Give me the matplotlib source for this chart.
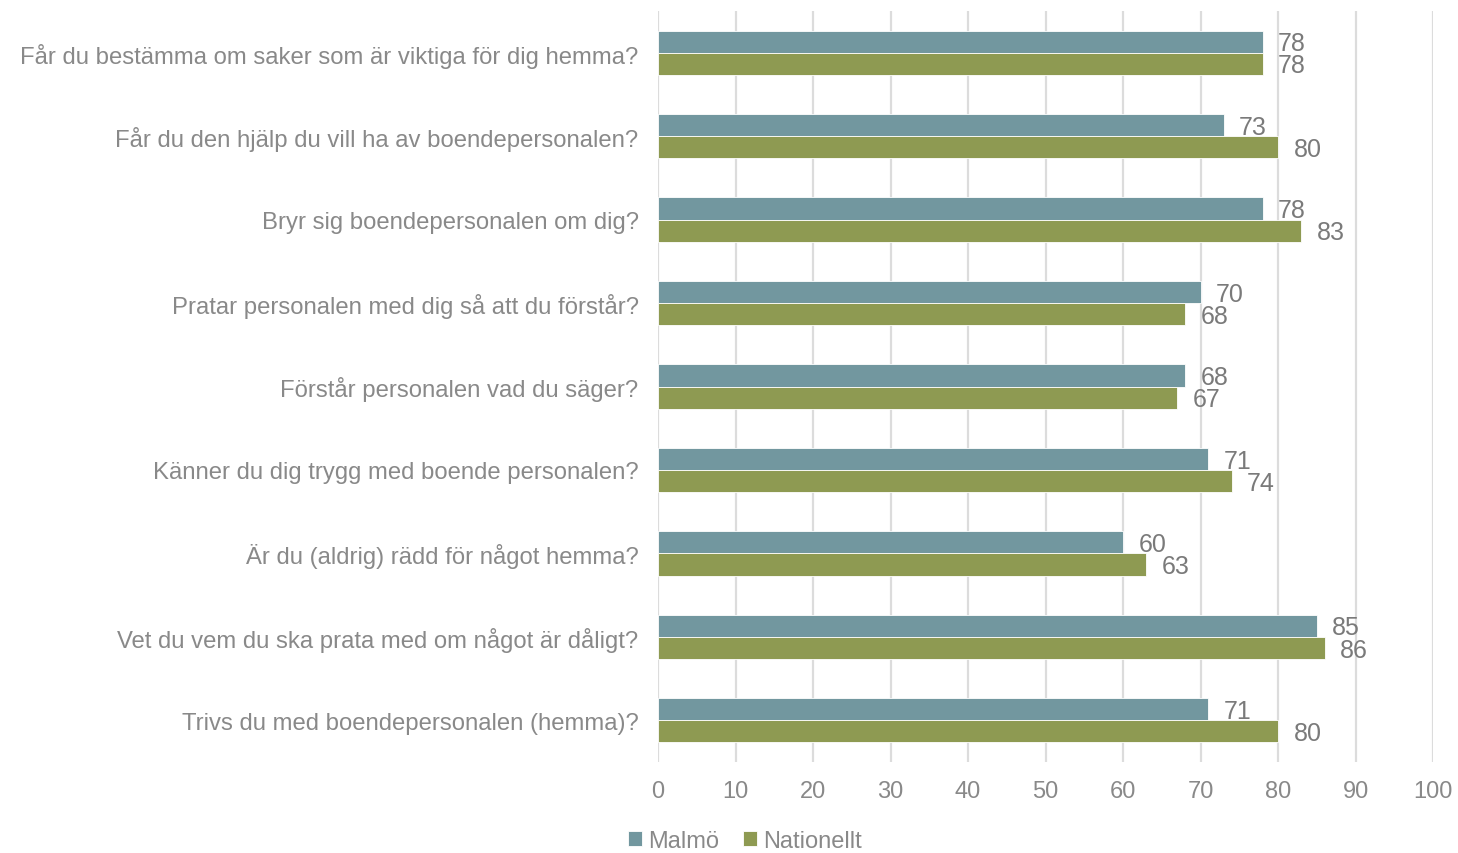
import matplotlib
matplotlib.use("Agg")
import matplotlib.pyplot as plt
import numpy as np

categories = [
    "Får du bestämma om saker som är viktiga för dig hemma?",
    "Får du den hjälp du vill ha av boendepersonalen?",
    "Bryr sig boendepersonalen om dig?",
    "Pratar personalen med dig så att du förstår?",
    "Förstår personalen vad du säger?",
    "Känner du dig trygg med boende personalen?",
    "Är du (aldrig) rädd för något hemma?",
    "Vet du vem du ska prata med om något är dåligt?",
    "Trivs du med boendepersonalen (hemma)?",
]
malmo = [78, 73, 78, 70, 68, 71, 60, 85, 71]
nationellt = [78, 80, 83, 68, 67, 74, 63, 86, 80]
series_names = ["Malmö", "Nationellt"]
xticks = [0, 10, 20, 30, 40, 50, 60, 70, 80, 90, 100]

plt.rcParams['font.family'] = ['Liberation Sans', 'DejaVu Sans']

c_malmo = "#72979F"
c_nat = "#8E9A52"
txt = "#898989"
lbl = "#7a7a7a"

fig = plt.figure(figsize=(14.58, 8.54), dpi=100)
ax = fig.add_axes([658/1458, 1-763/854, (1433-658)/1458, (763-12)/854])

y = np.arange(len(categories))
h = 0.265
b1 = ax.barh(y - h/2, malmo, height=h, color=c_malmo, edgecolor="white", linewidth=0.6, label=series_names[0], zorder=3)
b2 = ax.barh(y + h/2, nationellt, height=h, color=c_nat, edgecolor="white", linewidth=0.6, label=series_names[1], zorder=3)

for yy, v in zip(y - h/2, malmo):
    ax.text(v + 2.0, yy + 0.02, str(v), va="center", ha="left", fontsize=18, color=lbl)
for yy, v in zip(y + h/2, nationellt):
    ax.text(v + 2.0, yy + 0.02, str(v), va="center", ha="left", fontsize=18, color=lbl)

ax.set_ylim(len(categories) - 0.5, -0.5)
ax.set_xlim(0, 100)
ax.set_xticks(xticks)
ax.set_xticklabels([str(t) for t in xticks], fontsize=17, color=txt)
ax.set_yticks(y)
ax.set_yticklabels(categories, fontsize=17.2, color=txt)
ax.tick_params(axis="both", length=0)
ax.tick_params(axis="y", pad=14)
ax.tick_params(axis="x", pad=13)
for s in ax.spines.values():
    s.set_visible(False)
ax.grid(axis="x", color="#dcdcdc", linewidth=1.6, zorder=0)
ax.set_axisbelow(True)

leg = fig.legend(handles=[b1, b2], labels=series_names, loc="center", bbox_to_anchor=(745/1458, 1-842/854),
                 ncol=2, frameon=False, fontsize=17, handlelength=0.6, handleheight=0.6,
                 handletextpad=0.25, columnspacing=1.0, borderaxespad=0)
for t in leg.get_texts():
    t.set_color(txt)

fig.savefig("out.png", dpi=100)
